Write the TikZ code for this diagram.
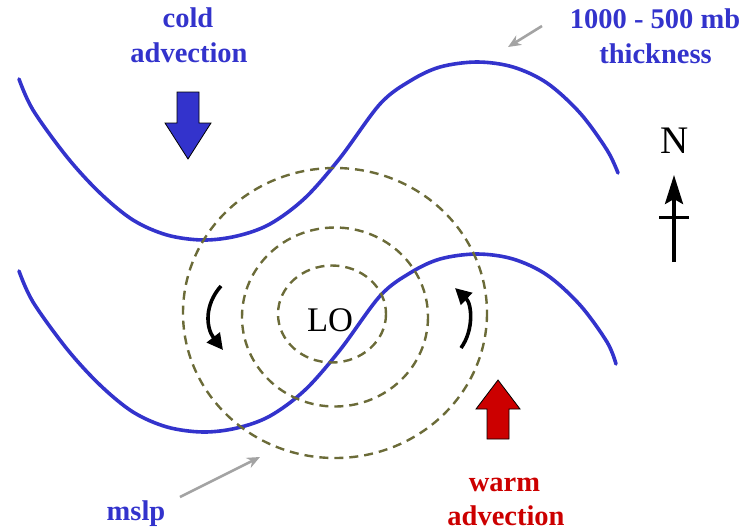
\documentclass[tikz,border=0pt]{standalone}
\usepackage{fontspec}
\setmainfont{Liberation Serif}
\usetikzlibrary{arrows.meta}
\definecolor{thickblue}{HTML}{3333CC}
\definecolor{warmred}{HTML}{CC0000}
\definecolor{mslpolive}{HTML}{6B6B38}
\definecolor{pointgray}{HTML}{A3A3A3}
\begin{document}
\begin{tikzpicture}[x=1pt,y=-1pt,
  thickline/.style={thickblue, line width=3.6pt, line cap=round},
  isobar/.style={mslpolive, line width=2.4pt, dash pattern=on 9pt off 6pt},
  lbl/.style={font=\fontsize{28.5}{35}\selectfont\bfseries, anchor=base, inner sep=0pt},
  blocka/.style={draw=black, line width=0.8pt, line join=miter},
  curarrow/.style={line width=3.6pt, -{Triangle[length=16pt,width=16pt]}},
  pointer/.style={pointgray, line width=2.6pt, -{Stealth[length=13pt,width=11pt]}}]
\path[use as bounding box] (0,0) rectangle (743,531);

% thickness lines
\draw[thickline] plot[smooth, tension=0.55] coordinates {(19,79) (33,110) (67,157) (100,193) (133,220) (167,235) (203,240) (237,236) (270,224) (305,198) (340,158) (380,104) (410,81) (440,67) (477,62) (513,67) (547,83) (580,113) (607,150) (618,173)};
\begin{scope}[yshift=-192pt]
\draw[thickline] plot[smooth, tension=0.55] coordinates {(19,79) (33,110) (67,157) (100,193) (133,220) (167,235) (203,240) (237,236) (270,224) (305,198) (340,158) (380,104) (410,81) (440,67) (477,62) (513,67) (547,83) (580,113) (607,150) (616,172)};
\end{scope}

% isobars
\draw[isobar] (332,314) ellipse [x radius=54, y radius=48.5];
\draw[isobar] (335,317) ellipse [x radius=93, y radius=89.5];
\draw[isobar] (335,313) ellipse [x radius=152, y radius=145];

\node[font=\fontsize{34.5}{34.5}\selectfont, anchor=base, inner sep=0pt] (lo) at (330,331) {LO};

% circulation arrows
\coordinate (la) at (221,286);
\coordinate (lb) at (223,350);
\draw[curarrow] (la) .. controls (204,305) and (206,328) .. (lb);
\coordinate (ra) at (461,348);
\coordinate (rb) at (455,288);
\draw[curarrow] (ra) .. controls (474,330) and (472,304) .. (rb);

% advection arrows
\path[blocka, fill=thickblue] (177,92) -- (199,92) -- (199,123) -- (211,123) -- (188,159) -- (165,123) -- (177,123) -- cycle;
\path[blocka, fill=warmred] (487,439) -- (509,439) -- (509,409) -- (520,409) -- (498,380) -- (476,409) -- (487,409) -- cycle;

% north arrow
\node[font=\fontsize{39}{39}\selectfont, anchor=base, inner sep=0pt] (north) at (674.5,153) {N};
\coordinate (nbot) at (674,262);
\coordinate (ntip) at (674,175);
\draw[line width=3.5pt, -{Stealth[length=29pt,width=18pt,inset=5pt]}] (nbot) -- (ntip);
\coordinate (cbl) at (659,217);
\coordinate (cbr) at (689,217);
\draw[line width=3pt] (cbl) -- (cbr);

% labels
\node[lbl, thickblue] (cold1) at (188,27) {cold};
\node[lbl, thickblue] (cold2) at (189,62) {advection};
\node[lbl, thickblue] (thick1) at (655,28) {1000 - 500 mb};
\node[lbl, thickblue] (thick2) at (655.5,63) {thickness};
\node[lbl, thickblue] (mslp) at (136,520) {mslp};
\node[lbl, warmred] (warm1) at (504.5,491) {warm};
\node[lbl, warmred] (warm2) at (506,525) {advection};

% pointers
\coordinate (ptA) at (542,26);
\coordinate (ptB) at (508,47);
\draw[pointer] (ptA) -- (ptB);
\coordinate (pmA) at (180,497);
\coordinate (pmB) at (260,457);
\draw[pointer] (pmA) -- (pmB);
\end{tikzpicture}
\end{document}
